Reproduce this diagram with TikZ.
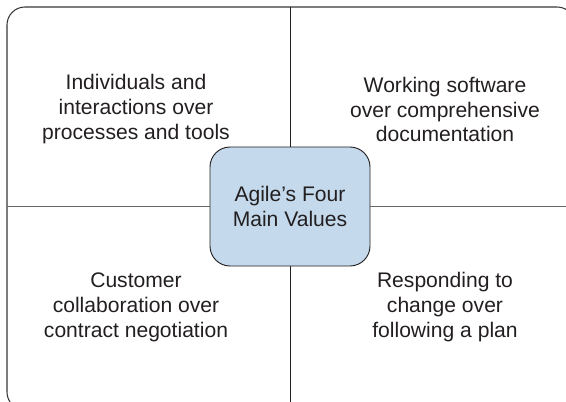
\documentclass[tikz,border=0pt]{standalone}
\usepackage{fontspec}
\setmainfont{Liberation Sans}
\usetikzlibrary{positioning}
\definecolor{ink}{HTML}{231F20}
\definecolor{rulegray}{HTML}{666666}
\definecolor{hubblue}{HTML}{C4DAEC}
\newcommand{\ValFont}{\fontsize{18}{21.3}\selectfont}

\begin{document}
\begin{tikzpicture}[x=0.03cm, y=-0.03cm, ink,
    frame/.style={draw=ink!90, line width=0.9pt, rounded corners=0.54cm, minimum width=17.04cm, minimum height=12.09cm, inner sep=0pt, outer sep=0pt},
    hub/.style={draw=ink, line width=0.8pt, fill=hubblue, rounded corners=0.6cm, minimum width=4.8cm, minimum height=3.57cm, align=center, font=\ValFont, inner sep=0pt, outer sep=0pt},
    value/.style={align=center, font=\ValFont, inner sep=0pt},
    vrule/.style={draw=ink, line width=0.8pt},
    hrule/.style={draw=rulegray, line width=1.3pt},
  ]
% --- Page ------------------------------------------------------------------------
\useasboundingbox (0,0) rectangle (566,402);
\clip (0,0) rectangle (566,402);

% --- Frame and hub -----------------------------------------------------------------
\node[frame] (frame) at (291,208.5) {};
\node[hub] (hub) at (290,206.5) {Agile’s Four\\Main Values};

% --- Cross (from the hub out to the frame) -----------------------------------------
\draw[vrule] (hub.north) -- (hub.north |- frame.north);
\draw[vrule] (hub.south) -- (hub.south |- frame.south);
\draw[hrule] (hub.west) -- (hub.west -| frame.west);
\draw[hrule] (hub.east) -- (hub.east -| frame.east);

% --- Values ---------------------------------------------------------------------------
\node[value] (people) at (136,109.5) {Individuals and\\interactions over\\processes and tools};
\node[value] (software) at (445,109.5) {Working software\\over comprehensive\\documentation};
\node[value] (customer) at (136,307) {Customer\\collaboration over\\contract negotiation};
\node[value] (change) at (445,307) {Responding to\\change over\\following a plan};
\end{tikzpicture}
\end{document}
